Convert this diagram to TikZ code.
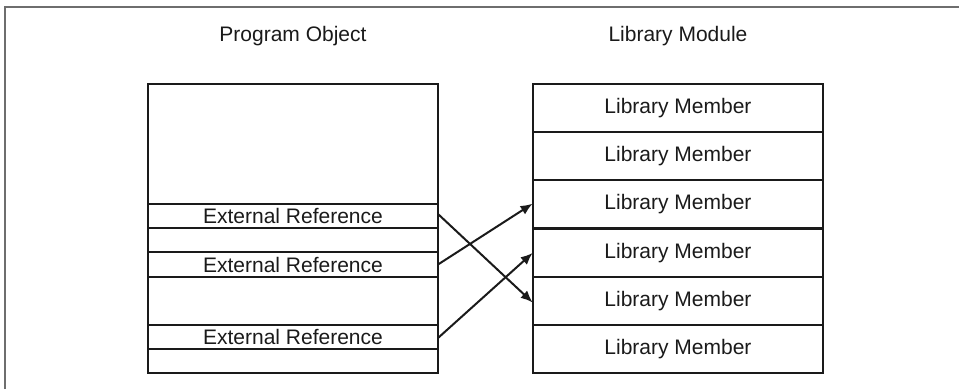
\documentclass[tikz,border=0pt]{standalone}
\usepackage{fontspec}
\setmainfont{Liberation Sans}
\usetikzlibrary{arrows.meta,positioning}
\definecolor{ink}{HTML}{1A1A1A}
\definecolor{framec}{HTML}{6E6E6E}
\tikzset{
  lbl/.style={font=\fontsize{21}{25}\selectfont, text=ink, inner sep=0pt},
  rowbox/.style={draw=ink, line width=2.1pt, rectangle, minimum width=290pt, inner sep=0pt, outer sep=0pt,
    font=\fontsize{21}{25}\selectfont, text=ink, anchor=north west},
  conn/.style={draw=ink, line width=2pt, -{Latex[length=12pt,width=10pt]}, shorten >=0.5pt},
}
\begin{document}
\begin{tikzpicture}[x=1pt,y=-1pt]
\useasboundingbox (0,0) rectangle (959,389);
% outer frame
\coordinate (fbl) at (5,389);
\coordinate (ftl) at (5,7);
\coordinate (ftr) at (959,7);
\draw[framec, line width=1.6pt] (fbl) -- (ftl) -- (ftr);
% titles
\node[lbl] (t1) at (293,36) {Program Object};
\node[lbl] (t2) at (678,36) {Library Module};
% program object
\node[rowbox, minimum height=289pt] (prog) at (148,84) {};
\node[rowbox, minimum height=24pt] (ext1) at (148,204) {External Reference};
\node[rowbox, minimum height=25pt] (ext2) at (148,252) {External Reference};
\node[rowbox, minimum height=24pt] (ext3) at (148,325) {External Reference};
% library module
\node[rowbox, minimum height=48.2pt] (m1) at (533,84) {Library Member};
\node[rowbox, minimum height=48.2pt] (m2) at (533,132.2) {Library Member};
\node[rowbox, minimum height=48.2pt] (m3) at (533,180.3) {Library Member};
\node[rowbox, minimum height=48.2pt] (m4) at (533,228.5) {Library Member};
\node[rowbox, minimum height=48.2pt] (m5) at (533,276.7) {Library Member};
\node[rowbox, minimum height=48.2pt] (m6) at (533,324.8) {Library Member};
% connectors
\draw[conn] ([yshift=2pt]ext1.east) -- ([yshift=-2pt]m5.west);
\draw[conn] (ext2.east) -- ([yshift=1pt]m3.west);
\draw[conn] ([yshift=-1pt]ext3.east) -- (m4.west);
\end{tikzpicture}
\end{document}
